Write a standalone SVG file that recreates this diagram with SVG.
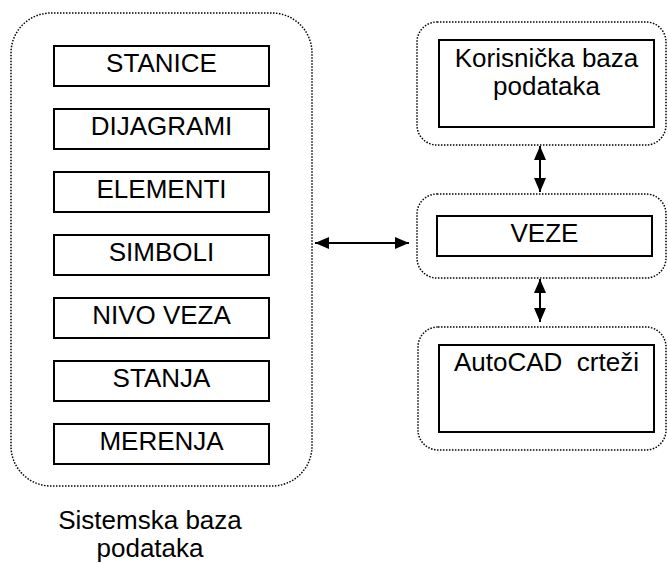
<svg xmlns="http://www.w3.org/2000/svg" width="668" height="564" viewBox="0 0 668 564">
<defs>
<marker id="ah" viewBox="0 0 14 12" refX="14" refY="6" markerWidth="14" markerHeight="12" markerUnits="userSpaceOnUse" orient="auto-start-reverse">
<path d="M0,0 L14,6 L0,12 Z" fill="#000"/>
</marker>
</defs>
<style>
.cont{fill:none;stroke:#000;stroke-width:1.5;stroke-dasharray:1.5 1.5}
.box{fill:#fff;stroke:#000;stroke-width:2}
.t{font-family:"Liberation Sans",Arial,sans-serif;font-size:26px;fill:#000;text-anchor:middle;white-space:pre}
.c{fill:none;stroke:#000;stroke-width:2}
</style>
<rect width="668" height="564" fill="#fff"/>
<g id="sistemska">
<rect class="cont" x="11" y="13" width="301" height="473" rx="40" ry="40"/>
<text class="t" x="150" y="529">Sistemska baza</text>
<text class="t" x="150" y="557">podataka</text>
</g>
<g id="stanice"><rect class="box" x="54" y="46" width="215" height="40"/><text class="t" x="161.5" y="72">STANICE</text></g>
<g id="dijagrami"><rect class="box" x="54" y="109" width="215" height="40"/><text class="t" x="161.5" y="135">DIJAGRAMI</text></g>
<g id="elementi"><rect class="box" x="54" y="172" width="215" height="40"/><text class="t" x="161.5" y="198">ELEMENTI</text></g>
<g id="simboli"><rect class="box" x="54" y="235" width="215" height="40"/><text class="t" x="161.5" y="261">SIMBOLI</text></g>
<g id="nivoveza"><rect class="box" x="54" y="298" width="215" height="40"/><text class="t" x="161.5" y="324">NIVO VEZA</text></g>
<g id="stanja"><rect class="box" x="54" y="361" width="215" height="40"/><text class="t" x="161.5" y="387">STANJA</text></g>
<g id="merenja"><rect class="box" x="54" y="424" width="215" height="40"/><text class="t" x="161.5" y="450">MERENJA</text></g>
<g id="korisnicka">
<rect class="cont" x="417" y="22" width="249" height="123" rx="20" ry="20"/>
<rect class="box" x="439" y="40" width="215" height="87"/>
<text class="t" x="546.5" y="67">Korisnička baza</text>
<text class="t" x="546.5" y="95">podataka</text>
</g>
<g id="veze">
<rect class="cont" x="417" y="194" width="249" height="84" rx="20" ry="20"/>
<rect class="box" x="437" y="216" width="215" height="40"/>
<text class="t" x="544.5" y="242">VEZE</text>
</g>
<g id="autocad">
<rect class="cont" x="418" y="327" width="248" height="123" rx="20" ry="20"/>
<rect class="box" x="439" y="345" width="215" height="87"/>
<text class="t" x="546.5" y="371">AutoCAD  crteži</text>
</g>
<g id="connectors">
<line class="c" x1="315" y1="243" x2="409" y2="243" marker-start="url(#ah)" marker-end="url(#ah)"/>
<line class="c" x1="540" y1="146" x2="540" y2="192" marker-start="url(#ah)" marker-end="url(#ah)"/>
<line class="c" x1="540" y1="279" x2="540" y2="322" marker-start="url(#ah)" marker-end="url(#ah)"/>
</g>
</svg>
